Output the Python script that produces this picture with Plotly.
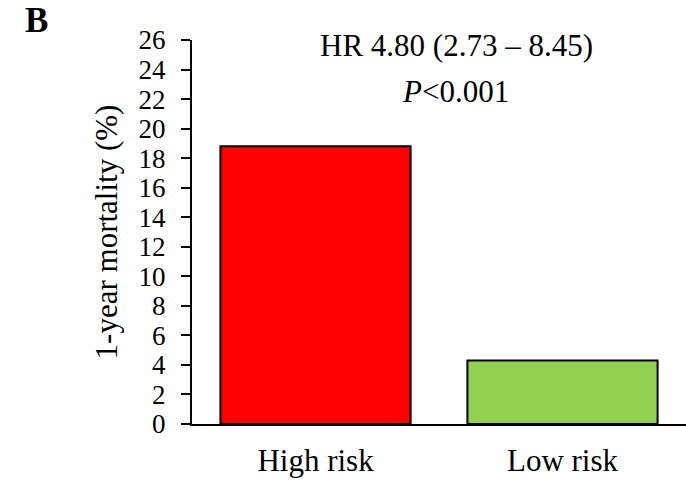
import plotly.graph_objects as go

# Data
groups = ["High risk", "Low risk"]
mortality = [18.8, 4.3]
bar_colors = ["#FF0000", "#92D050"]
y_ticks = list(range(0, 27, 2))

FONT = "Liberation Serif, Times New Roman, serif"

fig = go.Figure(
    go.Bar(
        x=groups,
        y=mortality,
        width=0.77,
        marker=dict(color=bar_colors, line=dict(color="black", width=2)),
    )
)

fig.update_layout(
    width=686,
    height=484,
    margin=dict(l=192, r=0, t=40, b=60),
    plot_bgcolor="white",
    paper_bgcolor="white",
    showlegend=False,
    font=dict(family=FONT, color="black"),
)

fig.update_xaxes(
    range=[-0.5, 1.5],
    showline=True,
    linecolor="black",
    linewidth=2,
    ticks="",
    tickfont=dict(size=31, family=FONT, color="black"),
    ticklabelstandoff=8,
    showgrid=False,
    zeroline=False,
)

fig.update_yaxes(
    range=[0, 26],
    tickvals=y_ticks,
    ticktext=[str(v) for v in y_ticks],
    showline=True,
    linecolor="black",
    linewidth=2,
    ticks="outside",
    ticklen=9,
    tickwidth=2,
    tickcolor="black",
    tickfont=dict(size=27, family=FONT, color="black"),
    ticklabelstandoff=10,
    showgrid=False,
    zeroline=False,
    title=dict(text="1-year mortality (%)", font=dict(size=31, family=FONT, color="black"), standoff=12),
)

fig.add_annotation(
    text="HR 4.80 (2.73 \u2013 8.45)",
    xref="paper", yref="paper",
    x=(456 - 192) / 494, y=(424 - 45) / 384,
    showarrow=False, xanchor="center", yanchor="middle",
    font=dict(size=31, family=FONT, color="black"),
)
fig.add_annotation(
    text="<i>P</i><0.001",
    xref="paper", yref="paper",
    x=(455 - 192) / 494, y=(424 - 92) / 384,
    showarrow=False, xanchor="center", yanchor="middle",
    font=dict(size=31, family=FONT, color="black"),
)
fig.add_annotation(
    text="<b>B</b>",
    xref="paper", yref="paper",
    x=(36 - 192) / 494, y=(424 - 21) / 384,
    showarrow=False, xanchor="center", yanchor="middle",
    font=dict(size=35, family=FONT, color="black"),
)

fig.write_html("out.html")
